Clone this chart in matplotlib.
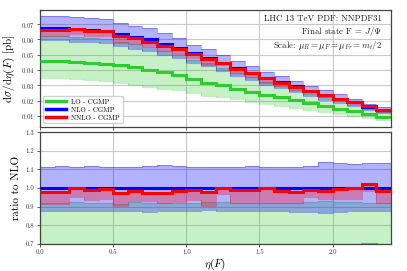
import numpy as np
import matplotlib
matplotlib.use("Agg")
import matplotlib.pyplot as plt

plt.rcParams['font.family'] = ['cmr10']
plt.rcParams['mathtext.fontset'] = 'cm'
plt.rcParams['axes.formatter.use_mathtext'] = True

# ---- data ----
eta_edges = np.linspace(0.0, 2.4, 25)

lo = [0.0459, 0.0459, 0.0453, 0.0448, 0.0442, 0.0431, 0.0418, 0.0402, 0.0387, 0.0365, 0.0343, 0.0317,
      0.0300, 0.0278, 0.0256, 0.0238, 0.0223, 0.0201, 0.0181, 0.0164, 0.0146, 0.0129, 0.0111, 0.0092]
lo_dn = [0.0350, 0.0350, 0.0339, 0.0332, 0.0326, 0.0317, 0.0304, 0.0289, 0.0278, 0.0267, 0.0252, 0.0230,
         0.0223, 0.0208, 0.0190, 0.0179, 0.0164, 0.0151, 0.0135, 0.0124, 0.0111, 0.0098, 0.0085, 0.0070]
nlo = [0.0677, 0.0676, 0.0667, 0.0663, 0.0657, 0.0635, 0.0615, 0.0601, 0.0572, 0.0542, 0.0508, 0.0481,
       0.0447, 0.0414, 0.0383, 0.0346, 0.0323, 0.0292, 0.0263, 0.0237, 0.0213, 0.0188, 0.0159, 0.0137]
nnlo_ratio = [0.976, 0.978, 1.000, 0.987, 0.996, 0.975, 0.985, 0.971, 0.975, 0.985, 0.987, 0.978,
              1.002, 0.988, 0.988, 1.002, 0.982, 0.979, 0.989, 0.986, 0.993, 0.998, 1.020, 0.986]
# band edges, as ratio to NLO central
lo_up_r = [0.918, 0.918, 0.924, 0.918, 0.922, 0.916, 0.924, 0.920, 0.918, 0.920, 0.922, 0.925,
           0.924, 0.918, 0.920, 0.922, 0.918, 0.918, 0.924, 0.930, 0.926, 0.924, 0.922, 0.918]
nlo_up_r = [1.113, 1.117, 1.115, 1.116, 1.113, 1.115, 1.113, 1.117, 1.122, 1.118, 1.114, 1.113,
            1.115, 1.112, 1.117, 1.113, 1.115, 1.114, 1.118, 1.140, 1.135, 1.130, 1.132, 1.132]
nlo_dn_r = [0.876, 0.878, 0.877, 0.878, 0.877, 0.876, 0.878, 0.873, 0.876, 0.877, 0.878, 0.879,
            0.878, 0.876, 0.874, 0.877, 0.876, 0.873, 0.870, 0.864, 0.872, 0.874, 0.876, 0.875]
nnlo_up_r = [0.981, 0.983, 1.005, 0.992, 1.001, 0.980, 0.990, 0.976, 0.980, 0.990, 0.992, 0.983,
             1.007, 0.993, 0.993, 1.007, 0.987, 0.984, 0.994, 0.991, 0.998, 1.003, 1.025, 0.991]
nnlo_dn_r = [0.916, 0.916, 0.951, 0.935, 0.942, 0.905, 0.931, 0.929, 0.920, 0.927, 0.938, 0.904,
             0.966, 0.921, 0.921, 0.918, 0.918, 0.921, 0.950, 0.943, 0.940, 0.940, 0.982, 0.921]

labels = ["LO - CGMP", "NLO - CGMP", "NNLO - CGMP"]
colors = ["#2ecc2e", "blue", "red"]

nlo_a = np.array(nlo)
lo_a = np.array(lo)
nnlo_a = np.array(nnlo_ratio) * nlo_a
bands = [
    (np.array(lo_dn), np.array(lo_up_r) * nlo_a),
    (np.array(nlo_dn_r) * nlo_a, np.array(nlo_up_r) * nlo_a),
    (np.array(nnlo_dn_r) * nlo_a, np.array(nnlo_up_r) * nlo_a),
]
centrals = [lo_a, nlo_a, nnlo_a]
band_colors = ["#33cc33", "blue", "red"]
band_alpha = [0.28, 0.3, 0.3]

fig = plt.figure(figsize=(4.07, 2.71), dpi=100)
ax1 = fig.add_axes([0.0983, 0.532, 0.8624, 0.431])
ax2 = fig.add_axes([0.0983, 0.1005, 0.8624, 0.4115])

for ax, norm in ((ax1, None), (ax2, nlo_a)):
    for (dn, up), bc, al in zip(bands, band_colors, band_alpha):
        d = dn if norm is None else dn / norm
        u = up if norm is None else up / norm
        ax.stairs(u, eta_edges, baseline=d, fill=True, color=bc, alpha=al, lw=0)
        ax.stairs(u, eta_edges, baseline=None, color=bc, alpha=al, lw=0.8)
        ax.stairs(d, eta_edges, baseline=None, color=bc, alpha=al, lw=0.8)
    for c, col, lab in zip(centrals, colors, labels):
        v = c if norm is None else c / norm
        ax.stairs(v, eta_edges, baseline=None, color=col, lw=2.2, label=lab, zorder=3)
    ax.set_xlim(0, 2.4)
    ax.grid(True, color="#c8c8c8", lw=0.8)
    ax.set_axisbelow(True)
    ax.tick_params(labelsize=4.8, length=2, width=0.6, pad=2, colors="#444444", labelcolor="#333333")
    for sp in ax.spines.values():
        sp.set_color("#444444")
        sp.set_linewidth(0.9)

ax1.set_ylim(0.0028, 0.0792)
ax1.set_yticks([0.01, 0.02, 0.03, 0.04, 0.05, 0.06, 0.07])
ax1.set_xticks([0, 0.5, 1.0, 1.5, 2.0])
ax1.tick_params(labelbottom=False)
ax1.set_ylabel(r"$\mathrm{d}\sigma/\mathrm{d}\eta(F)$ [pb]", fontsize=8, labelpad=3)

ax2.set_ylim(0.7, 1.3)
ax2.set_yticks([0.7, 0.8, 0.9, 1.0, 1.1, 1.2, 1.3])
ax2.set_yticklabels(["0.7", "0.8", "0.9", "1.0", "1.1", "1.2", "1.3"])
ax2.set_xticks([0, 0.5, 1.0, 1.5, 2.0])
ax2.set_xticklabels(["0.0", "0.5", "1.0", "1.5", "2.0"])
ax2.set_ylabel("ratio to NLO", fontsize=8, labelpad=3)
ax2.set_xlabel(r"$\eta(F)$", fontsize=8, labelpad=1)

leg = ax1.legend(loc="lower left", fontsize=5, handlelength=2.8, framealpha=0.9,
                 borderpad=0.4, labelspacing=0.3, fancybox=True)
for l in leg.get_lines():
    l.set_linewidth(2.5)

txt = ("LHC 13 TeV PDF: NNPDF31\n"
       r"Final state F = $J/\Psi$" "\n"
       r"Scale: $\mu_R = \mu_F = \mu_{Fr} = m_t/2$")
ax1.text(0.975, 0.965, txt, transform=ax1.transAxes, ha="right", va="top",
         fontsize=6.4, linespacing=1.22, color="#222222")

fig.savefig("out.png", dpi=100)
